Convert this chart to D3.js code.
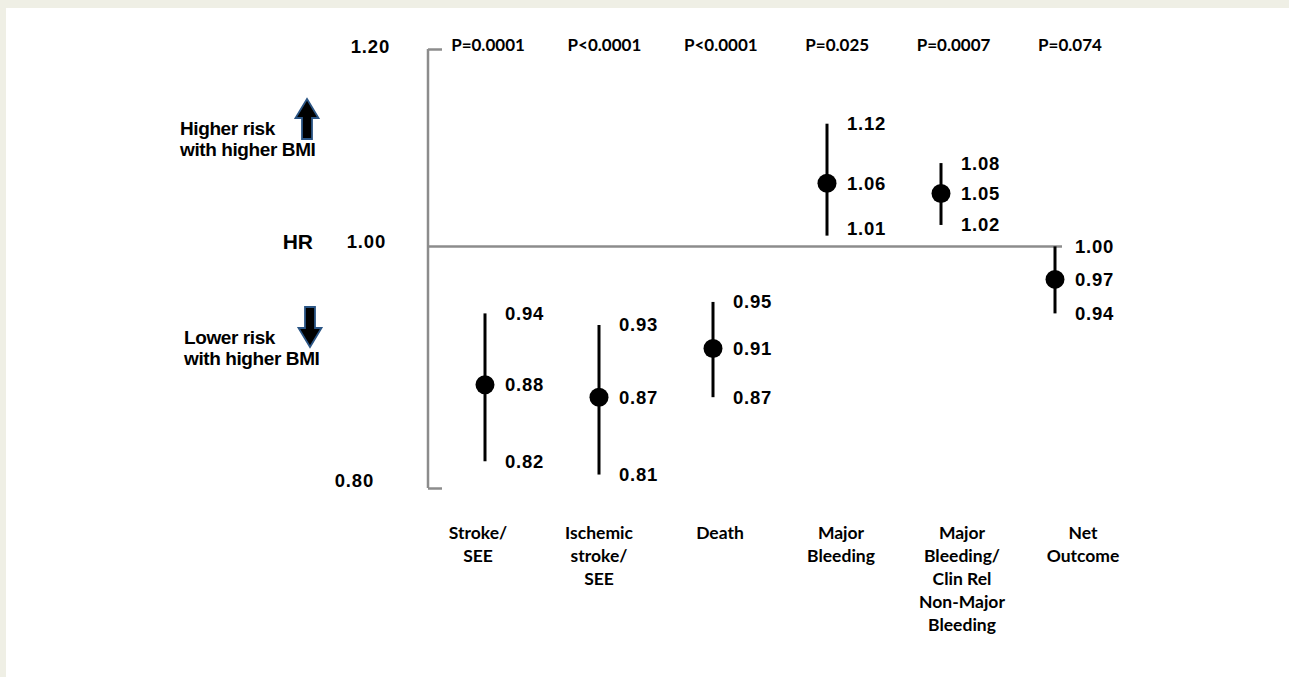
<!DOCTYPE html>
<html>
<head>
<meta charset="utf-8">
<script src="https://cdn.jsdelivr.net/npm/d3@7"></script>
<style>
  html, body { margin: 0; padding: 0; background: #efefe5; }
  svg { display: block; }
</style>
</head>
<body>
<svg id="chart" width="1289" height="677"></svg>
<script>
// ---- data ----
const categories = ["Stroke/\nSEE", "Ischemic\nstroke/\nSEE", "Death", "Major\nBleeding",
  "Major\nBleeding/\nClin Rel\nNon-Major\nBleeding", "Net\nOutcome"];
const hr = [0.88, 0.87, 0.91, 1.06, 1.05, 0.97];
const lower = [0.82, 0.81, 0.87, 1.01, 1.02, 0.94];
const upper = [0.94, 0.93, 0.95, 1.12, 1.08, 1.00];
const pValues = ["P=0.0001", "P<0.0001", "P<0.0001", "P=0.025", "P=0.0007", "P=0.074"];
const yTicks = [0.80, 1.00, 1.20];
const refValue = 1.00;

const svg = d3.select("#chart");
// white panel
svg.append("rect").attr("x", 6).attr("y", 8).attr("width", 1289 - 6).attr("height", 677 - 8).attr("fill", "#ffffff");

const x = d3.scaleBand().domain(categories).range([428, 1112]).padding(0);
const cx = d => x(d) + x.bandwidth() / 2;
// label positions (text spread a bit wider than the marks in the original)
const xLab = d3.scalePoint().domain(categories).range([478, 1083]);
const xP = d3.scalePoint().domain(categories).range([488, 1070]);
const y = d3.scaleLog().domain([0.8, 1.2]).range([488, 49]);

const numFont = "'Liberation Sans', Arial, sans-serif";
const calFont = "Lato, 'Open Sans', sans-serif";
const gray = "#8c8c8c";

// y axis (bracket)
const axisX = x.range()[0];
const axis = d3.axisRight(y).tickValues([y.domain()[0], y.domain()[1]]).tickSize(14).tickFormat("");
const ag = svg.append("g").attr("transform", `translate(${axisX},0)`).call(axis);
ag.select(".domain").remove();
ag.selectAll(".tick line").attr("stroke", gray).attr("stroke-width", 2.5);
ag.append("line").attr("x1", 0).attr("x2", 0).attr("y1", y(1.2)).attr("y2", y(0.8))
  .attr("stroke", gray).attr("stroke-width", 2.5);

// y tick labels
const tickOffsets = {"1.2": -2, "1": -5, "0.8": -7};
svg.selectAll(".ylab").data(yTicks).join("text")
  .attr("x", d => d === 1.2 ? 390 : (d === 1 ? 386 : 374))
  .attr("y", d => y(d) + (tickOffsets[String(d)] || 0))
  .attr("dy", "0.35em").attr("text-anchor", "end")
  .attr("font-family", numFont).attr("font-weight", "bold").attr("font-size", 18.5)
  .attr("letter-spacing", 0.8)
  .text(d => d3.format(".2f")(d));

// HR label
svg.append("text").attr("x", 313).attr("y", y(refValue) - 5).attr("dy", "0.35em")
  .attr("text-anchor", "end").attr("font-family", numFont).attr("font-weight", "bold")
  .attr("font-size", 21).text("HR");

// reference line
svg.append("line").attr("x1", axisX).attr("x2", cx(categories[5]) + 7)
  .attr("y1", y(refValue)).attr("y2", y(refValue)).attr("stroke", gray).attr("stroke-width", 2.5);

// risk annotations
function annot(lines, x0, yc) {
  const t = svg.append("text").attr("font-family", numFont).attr("font-weight", "bold")
    .attr("font-size", 19).attr("letter-spacing", -0.4);
  lines.forEach((l, i) => t.append("tspan").attr("x", x0).attr("y", yc + i * 21).attr("dy", "0.35em").text(l));
}
annot(["Higher risk", "with higher BMI"], 180, 128);
annot(["Lower risk", "with higher BMI"], 184, 337);

function arrow(xc, yTop, yBot, up) {
  const hw = 11.5, bw = 5, hl = 19;
  let p;
  if (up) {
    p = `M${xc},${yTop} L${xc + hw},${yTop + hl} L${xc + bw},${yTop + hl} L${xc + bw},${yBot} L${xc - bw},${yBot} L${xc - bw},${yTop + hl} L${xc - hw},${yTop + hl} Z`;
  } else {
    p = `M${xc},${yBot} L${xc + hw},${yBot - hl} L${xc + bw},${yBot - hl} L${xc + bw},${yTop} L${xc - bw},${yTop} L${xc - bw},${yBot - hl} L${xc - hw},${yBot - hl} Z`;
  }
  svg.append("path").attr("d", p).attr("fill", "#000").attr("stroke", "#2b5585").attr("stroke-width", 1.8)
    .attr("stroke-linejoin", "miter");
}
arrow(307, 99, 139, true);
arrow(310, 307, 347, false);

// p-values
svg.selectAll(".pval").data(categories).join("text")
  .attr("x", d => xP(d)).attr("y", 45).attr("dy", "0.35em").attr("text-anchor", "middle")
  .attr("font-family", calFont).attr("font-weight", "bold").attr("font-size", 17)
  .text((d, i) => pValues[i]);

// whiskers
svg.selectAll(".ci").data(categories).join("line")
  .attr("x1", d => cx(d)).attr("x2", d => cx(d))
  .attr("y1", (d, i) => y(lower[i])).attr("y2", (d, i) => y(upper[i]))
  .attr("stroke", "#000").attr("stroke-width", 3);

// points
svg.selectAll(".pt").data(categories).join("circle")
  .attr("cx", d => cx(d)).attr("cy", (d, i) => y(hr[i])).attr("r", 9.5).attr("fill", "#000");

// value labels
const refY = y(refValue);
function valLabel(vals, posFn) {
  svg.append("g").selectAll("text").data(categories).join("text")
    .attr("x", d => cx(d) + 20)
    .attr("y", (d, i) => posFn(vals[i], i)).attr("dy", "0.35em")
    .attr("font-family", numFont).attr("font-weight", "bold").attr("font-size", 18.5)
    .attr("letter-spacing", 0.8)
    .text((d, i) => d3.format(".2f")(vals[i]));
}
valLabel(upper, v => y(v));
valLabel(hr, v => y(v));
valLabel(lower, v => v > refValue ? Math.min(y(v), refY - 18) : y(v));

// category labels
categories.forEach(c => {
  const t = svg.append("text").attr("text-anchor", "middle").attr("font-family", calFont)
    .attr("font-weight", "bold").attr("font-size", 17.5);
  c.split("\n").forEach((l, i) => t.append("tspan").attr("x", xLab(c)).attr("y", 533 + i * 23)
    .attr("dy", "0.35em").text(l));
});
</script>
</body>
</html>
